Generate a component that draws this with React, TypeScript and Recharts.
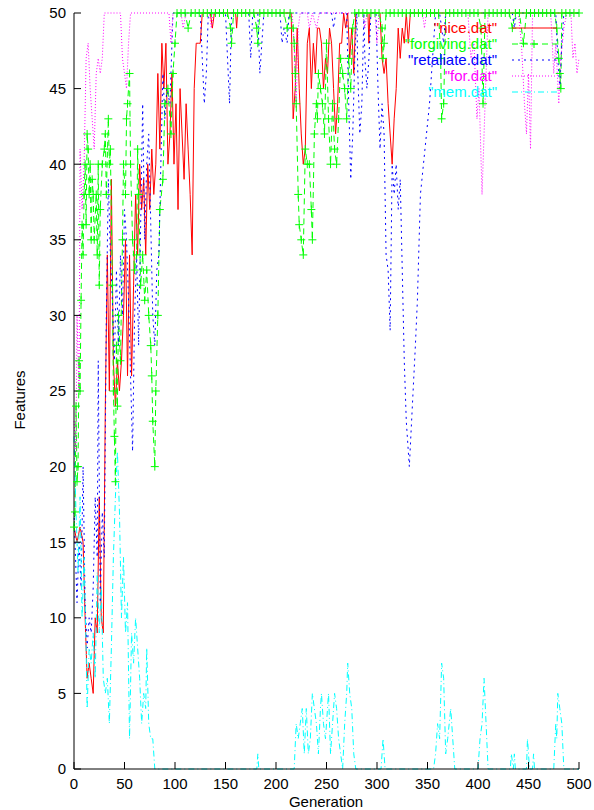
import React from "react";
import { LineChart, Line, XAxis, YAxis } from "recharts";

// gnuplot-style run log: features per generation for five strategies.

const GEN_TICKS = [0, 50, 100, 150, 200, 250, 300, 350, 400, 450, 500];
const FEATURE_TICKS = [0, 5, 10, 15, 20, 25, 30, 35, 40, 45, 50];

// [generation, features]
const NICE: [number, number][] = [
  [0, 16], [3, 15], [6, 16], [9, 15], [11, 10], [13, 6], [15, 7], [17, 6], [19, 5], [21, 10],
  [23, 9], [25, 18], [27, 10], [29, 9], [31, 24], [33, 34], [35, 25], [37, 39], [39, 27], [41, 24],
  [43, 27], [45, 25], [47, 27], [49, 30], [51, 35], [53, 26], [55, 34], [57, 26], [59, 32], [61, 38],
  [63, 34], [65, 40], [67, 37], [69, 39], [71, 34], [73, 40], [75, 37], [77, 41], [79, 38], [81, 40],
  [83, 46], [85, 41], [87, 48], [89, 45], [91, 48], [93, 40], [95, 42], [97, 46], [99, 40], [101, 44],
  [103, 37], [105, 45], [107, 42], [109, 39], [111, 44], [113, 41], [115, 38], [117, 34], [119, 45], [121, 48],
  [123, 48], [125, 48], [127, 50], [135, 50], [137, 49], [139, 50], [160, 50], [161, 49], [162, 50], [215, 50],
  [217, 43], [219, 45], [221, 49], [223, 45], [225, 42], [227, 40], [229, 41], [231, 48], [233, 49], [235, 45],
  [237, 48], [239, 46], [241, 49], [243, 49], [245, 48], [247, 45], [249, 47], [251, 46], [253, 49], [255, 48],
  [257, 45], [259, 42], [261, 44], [263, 48], [265, 48], [267, 50], [269, 49], [271, 50], [273, 47], [275, 49],
  [277, 46], [279, 50], [291, 50], [292, 48], [293, 50], [303, 50], [305, 47], [307, 46], [309, 47], [311, 44],
  [313, 42], [315, 40], [317, 43], [319, 45], [321, 49], [323, 47], [325, 49], [327, 48], [329, 50], [331, 48],
  [333, 50], [500, 50],
];

const FORGIVING: [number, number][] = [
  [0, 16], [1, 17], [2, 24], [3, 19], [4, 20], [5, 27], [6, 25], [7, 31], [8, 36], [9, 34],
  [10, 38], [11, 40], [12, 36], [13, 42], [14, 41], [15, 38], [16, 40], [17, 35], [18, 39], [19, 38],
  [20, 35], [22, 38], [23, 34], [24, 40], [25, 32], [26, 37], [28, 40], [30, 41], [31, 42], [32, 38],
  [34, 43], [35, 40], [36, 41], [38, 32], [39, 25], [40, 22], [41, 19], [42, 28], [43, 24], [44, 30],
  [46, 27], [48, 35], [49, 40], [51, 38], [52, 43], [53, 44], [55, 46], [56, 40], [58, 35], [60, 33],
  [62, 34], [63, 41], [64, 38], [66, 32], [68, 34], [70, 31], [72, 33], [74, 30], [76, 28], [77, 26],
  [78, 23], [80, 20], [81, 25], [83, 30], [85, 37], [88, 39], [90, 44], [93, 45], [96, 42], [98, 46],
  [100, 48], [102, 50], [106, 50], [110, 50], [113, 49], [116, 50], [120, 50], [124, 50], [128, 50], [132, 50],
  [136, 50], [140, 50], [144, 50], [148, 50], [152, 50], [155, 49], [156, 48], [158, 50], [162, 50], [166, 50],
  [170, 50], [174, 50], [178, 50], [181, 49], [182, 48], [184, 50], [188, 50], [192, 50], [196, 50], [200, 50],
  [204, 50], [208, 50], [211, 49], [214, 50], [217, 49], [218, 48], [219, 46], [220, 44], [222, 38], [223, 36],
  [225, 35], [227, 34], [229, 41], [231, 40], [233, 40], [235, 37], [236, 35], [238, 42], [240, 44], [241, 43],
  [242, 46], [244, 45], [246, 44], [248, 42], [250, 48], [252, 43], [254, 40], [256, 44], [258, 41], [260, 40],
  [262, 43], [264, 47], [266, 46], [268, 45], [270, 43], [272, 47], [274, 45], [276, 49], [278, 50], [282, 50],
  [286, 50], [290, 50], [294, 50], [298, 50], [302, 50], [305, 49], [306, 47], [307, 48], [309, 50], [313, 50],
  [317, 50], [321, 50], [325, 50], [329, 50], [333, 50], [337, 50], [341, 50], [345, 50], [349, 50], [353, 50],
  [357, 50], [361, 50], [363, 47], [364, 43], [366, 44], [368, 50], [372, 50], [376, 50], [380, 50], [384, 50],
  [388, 50], [392, 50], [396, 50], [400, 50], [403, 49], [405, 44], [407, 50], [411, 50], [415, 50], [419, 50],
  [423, 50], [427, 50], [431, 50], [434, 49], [437, 50], [441, 50], [445, 48], [448, 50], [452, 50], [456, 50],
  [460, 50], [464, 50], [468, 50], [472, 50], [476, 50], [478, 49], [480, 47], [481, 46], [482, 45], [483, 50],
  [487, 50], [491, 50], [495, 50], [500, 50],
];

const RETALIATE: [number, number][] = [
  [0, 17], [2, 13], [3, 11], [5, 15], [7, 12], [9, 20], [11, 11], [13, 8], [15, 10], [17, 9],
  [19, 12], [21, 18], [23, 14], [24, 27], [26, 11], [28, 17], [30, 14], [32, 30], [34, 39], [36, 34],
  [38, 31], [40, 27], [42, 33], [44, 28], [46, 34], [48, 30], [50, 37], [52, 35], [54, 31], [56, 26],
  [58, 21], [60, 30], [62, 34], [64, 28], [66, 36], [68, 44], [70, 35], [72, 40], [74, 42], [76, 36],
  [78, 30], [80, 28], [82, 33], [84, 34], [86, 40], [88, 46], [90, 43], [92, 45], [95, 44], [98, 50],
  [125, 50], [127, 47], [129, 44], [131, 46], [133, 50], [150, 50], [152, 47], [154, 44], [156, 50], [173, 50],
  [175, 47], [177, 50], [182, 50], [184, 46], [186, 48], [188, 50], [204, 50], [206, 48], [208, 49], [211, 48],
  [213, 50], [255, 50], [257, 49], [259, 50], [270, 50], [272, 44], [274, 39], [276, 42], [278, 47], [280, 50],
  [281, 46], [283, 42], [285, 44], [287, 50], [288, 47], [290, 45], [292, 47], [294, 50], [299, 50], [301, 45],
  [303, 41], [305, 44], [307, 42], [309, 34], [311, 33], [313, 29], [315, 40], [317, 38], [319, 40], [321, 37],
  [323, 39], [325, 33], [327, 27], [329, 23], [332, 20], [335, 24], [338, 28], [340, 31], [343, 38], [346, 40],
  [349, 42], [352, 44], [355, 47], [358, 50], [362, 50], [364, 49], [366, 48], [368, 50], [434, 50], [436, 49],
  [438, 50], [477, 50], [479, 47], [481, 45], [483, 48], [485, 50], [500, 50],
];

const FOR: [number, number][] = [
  [0, 23], [2, 21], [3, 30], [5, 25], [6, 41], [8, 37], [10, 40], [12, 47], [14, 48], [16, 45],
  [18, 43], [20, 41], [22, 46], [24, 47], [26, 46], [28, 47], [30, 50], [46, 50], [48, 47], [50, 46],
  [52, 45], [54, 48], [56, 50], [94, 50], [96, 48], [98, 50], [106, 50], [108, 49], [111, 50], [134, 50],
  [136, 49], [138, 50], [216, 50], [218, 48], [220, 44], [222, 49], [224, 50], [231, 50], [233, 49], [236, 50],
  [240, 49], [243, 50], [286, 50], [288, 49], [290, 50], [298, 50], [300, 48], [302, 50], [345, 50], [347, 49],
  [349, 50], [390, 50], [393, 47], [396, 48], [399, 43], [401, 45], [404, 38], [406, 42], [408, 46], [410, 50],
  [440, 50], [443, 48], [446, 44], [448, 42], [450, 46], [452, 41], [454, 50], [472, 50], [475, 46], [477, 48],
  [480, 44], [482, 47], [485, 49], [488, 50], [492, 50], [494, 47], [496, 48], [498, 46], [500, 47],
];

const MEM: [number, number][] = [
  [0, 22], [2, 17], [4, 13], [6, 18], [8, 10], [10, 14], [12, 8], [13, 4], [15, 8], [17, 7],
  [19, 9], [21, 6], [23, 13], [25, 9], [27, 12], [29, 6], [31, 5], [33, 6], [35, 3], [37, 8],
  [39, 14], [41, 18], [43, 21], [45, 17], [47, 10], [49, 14], [51, 9], [53, 11], [55, 2], [57, 9],
  [59, 7], [61, 10], [63, 8], [65, 6], [67, 3], [69, 5], [71, 4], [72, 8], [74, 3], [76, 2],
  [78, 2], [80, 0], [181, 0], [182, 1], [183, 0], [218, 0], [220, 3], [222, 2], [224, 3], [226, 4],
  [228, 1], [230, 4], [232, 1], [234, 2], [236, 5], [238, 4], [240, 3], [242, 1], [244, 4], [245, 5],
  [247, 3], [249, 2], [251, 4], [252, 5], [254, 1], [256, 3], [258, 5], [260, 4], [262, 2], [264, 1],
  [266, 0], [268, 3], [270, 5], [271, 7], [273, 5], [275, 4], [277, 1], [279, 0], [304, 0], [306, 2],
  [308, 0], [356, 0], [358, 1], [360, 3], [362, 2], [364, 7], [366, 6], [368, 1], [370, 2], [373, 4],
  [375, 2], [377, 0], [400, 0], [402, 2], [404, 3], [406, 6], [408, 3], [410, 0], [432, 0], [433, 1],
  [435, 0], [436, 1], [437, 0], [448, 0], [449, 2], [451, 0], [454, 0], [455, 1], [456, 0], [475, 0],
  [477, 3], [478, 2], [479, 5], [481, 4], [483, 3], [485, 0], [500, 0],
];

const SERIES = [
  { name: '"nice.dat"', pts: NICE, color: "#ff0000", dash: undefined as string | undefined, marks: false },
  { name: '"forgiving.dat"', pts: FORGIVING, color: "#00ff00", dash: "6 4", marks: true },
  { name: '"retaliate.dat"', pts: RETALIATE, color: "#0000ff", dash: "2 4", marks: false },
  { name: '"for.dat"', pts: FOR, color: "#ff00ff", dash: "1 2", marks: false },
  { name: '"mem.dat"', pts: MEM, color: "#00ffff", dash: "6 3 1 3", marks: false },
];

const FONT = "'Liberation Sans', Arial, Helvetica, sans-serif";

function plusPath(cx: number, cy: number) {
  return `M${cx - 4},${cy}h8M${cx},${cy - 4}v8`;
}

function PlusDot(props: any) {
  const { cx, cy, index } = props;
  if (cx == null || cy == null) return <g key={index} />;
  return <path key={index} d={plusPath(cx, cy)} stroke="#00ff00" strokeWidth={1} fill="none" />;
}

const noTick = () => <g />;

export default function App() {
  return (
    <div style={{ position: "absolute", left: 0, top: 0, width: 594, height: 810, background: "#fff" }}>
      <LineChart width={594} height={810} margin={{ top: 13, right: 15, bottom: 0, left: 0 }}>
        <XAxis
          dataKey="gen"
          type="number"
          domain={[0, 500]}
          ticks={GEN_TICKS}
          height={41}
          tickSize={-7}
          tickMargin={16}
          axisLine={{ stroke: "#000" }}
          tickLine={{ stroke: "#000" }}
          tick={{ fill: "#000", fontSize: 15, fontFamily: FONT }}
          allowDuplicatedCategory={false}
        />
        <XAxis
          xAxisId="top"
          orientation="top"
          type="number"
          domain={[0, 500]}
          ticks={GEN_TICKS}
          height={0}
          tickSize={-7}
          axisLine={{ stroke: "#000" }}
          tickLine={{ stroke: "#000" }}
          tick={noTick}
        />
        <YAxis
          type="number"
          domain={[0, 50]}
          ticks={FEATURE_TICKS}
          width={74}
          tickSize={-7}
          tickMargin={15}
          axisLine={{ stroke: "#000" }}
          tickLine={{ stroke: "#000" }}
          tick={{ fill: "#000", fontSize: 15, fontFamily: FONT }}
        />
        <YAxis
          yAxisId="right"
          orientation="right"
          type="number"
          domain={[0, 50]}
          ticks={FEATURE_TICKS}
          width={0}
          tickSize={-7}
          axisLine={{ stroke: "#000" }}
          tickLine={{ stroke: "#000" }}
          tick={noTick}
        />
        {SERIES.map((s) => (
          <Line
            key={s.name}
            data={s.pts.map(([gen, v]) => ({ gen, v }))}
            dataKey="v"
            type="linear"
            stroke={s.color}
            strokeWidth={1}
            strokeDasharray={s.dash}
            dot={s.marks ? PlusDot : false}
            activeDot={false}
            isAnimationActive={false}
          />
        ))}
      </LineChart>

      <svg
        width={594}
        height={810}
        style={{ position: "absolute", left: 0, top: 0, pointerEvents: "none" }}
        fontFamily={FONT}
        fontSize={15}
      >
        {SERIES.map((s, i) => {
          const y = 28 + i * 16;
          return (
            <g key={s.name}>
              <text x={497} y={y + 5} textAnchor="end" fill={s.color}>
                {s.name}
              </text>
              <line x1={512} x2={557} y1={y} y2={y} stroke={s.color} strokeDasharray={s.dash} />
              {s.marks && <path d={plusPath(534, y)} stroke={s.color} fill="none" />}
            </g>
          );
        })}
        <text x={326} y={807} textAnchor="middle" fill="#000">
          Generation
        </text>
        <text x={25} y={400} textAnchor="middle" fill="#000" transform="rotate(-90 25 400)">
          Features
        </text>
      </svg>
    </div>
  );
}
